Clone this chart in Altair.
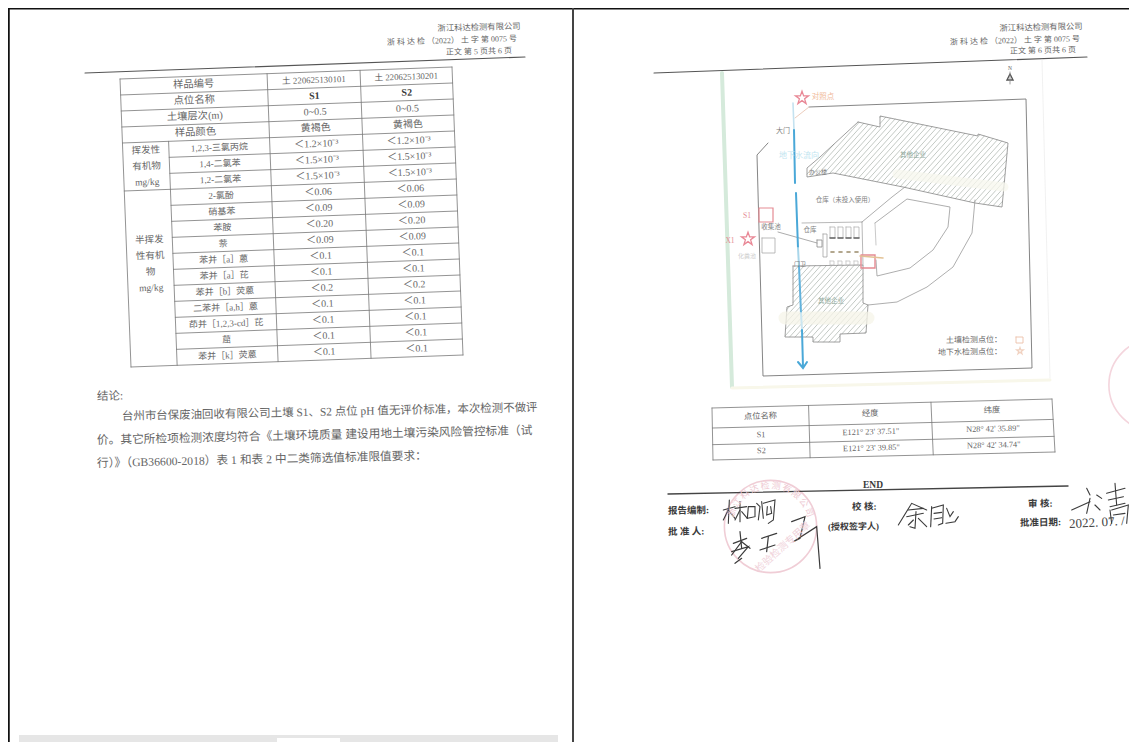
import math
import altair as alt
import pandas as pd

# ---------- text content ----------
HEAD_ROWS = ["样品编号", "点位名称", "土壤层次(m)", "样品颜色"]
NAMES = ["1,2,3-三氯丙烷", "1,4-二氯苯", "1,2-二氯苯", "2-氯酚", "硝基苯", "苯胺", "萘",
         "苯并［a］蒽", "苯并［a］芘", "苯并［b］荧蒽", "二苯并［a,h］蒽", "茚并［1,2,3-cd］芘", "䓛", "苯并［k］荧蒽"]
S1_VALUES = ["土 220625130101", "S1", "0~0.5", "黄褐色", "＜1.2×10⁻³", "＜1.5×10⁻³", "＜1.5×10⁻³", "＜0.06", "＜0.09",
             "＜0.20", "＜0.09", "＜0.1", "＜0.1", "＜0.2", "＜0.1", "＜0.1", "＜0.1", "＜0.1"]
S2_VALUES = ["土 220625130201", "S2", "0~0.5", "黄褐色", "＜1.2×10⁻³", "＜1.5×10⁻³", "＜1.5×10⁻³", "＜0.06", "＜0.09",
             "＜0.20", "＜0.09", "＜0.1", "＜0.1", "＜0.2", "＜0.1", "＜0.1", "＜0.1", "＜0.1"]
GROUP_A = ["挥发性", "有机物", "mg/kg"]
GROUP_B = ["半挥发", "性有机", "物", "mg/kg"]
CONCLUSION = ["结论:",
              "台州市台保废油回收有限公司土壤 S1、S2 点位 pH 值无评价标准，本次检测不做评",
              "价。其它所检项检测浓度均符合《土壤环境质量  建设用地土壤污染风险管控标准（试",
              "行）》（GB36600-2018）表 1 和表 2 中二类筛选值标准限值要求："]
COORD_TABLE = [["点位名称", "经度", "纬度"],
               ["S1", "E121° 23' 37.51\"", "N28° 42' 35.89\""],
               ["S2", "E121° 23' 39.85\"", "N28° 42' 34.74\""]]

FONT = "Liberation Serif, Noto Sans CJK SC"
INK = "#666666"
DARK = "#3a3a3a"
lines, texts = [], []
LINE_ID = [0]


def poly(points, color="#777777", w=0.8):
    LINE_ID[0] += 1
    for i, (x, y) in enumerate(points):
        lines.append(dict(id=LINE_ID[0], i=i, x=x, y=y, c=color, w=w))


def T(x, y, t, s=9, c=INK, tilt=2.0, align="center", weight="normal"):
    texts.append(dict(x=x, y=y, t=t, s=s, c=c, a=(360 - tilt) % 360, al=align, wt=weight))


def hatch(polygon, step=5.5, color="#a9b1ab", w=0.7):
    cs = [x + 0.9 * y for x, y in polygon]
    c = min(cs)
    while c < max(cs):
        hits = []
        n = len(polygon)
        for j in range(n):
            (x1, y1), (x2, y2) = polygon[j], polygon[(j + 1) % n]
            d1, d2 = x1 + 0.9 * y1 - c, x2 + 0.9 * y2 - c
            if d1 * d2 < 0:
                t = d1 / (d1 - d2)
                hits.append((x1 + t * (x2 - x1), y1 + t * (y2 - y1)))
        hits.sort()
        for a, b in zip(hits[0::2], hits[1::2]):
            poly([a, b], color, w)
        c += step


# ---------- frame ----------
poly([(8.5, 8), (8.5, 742)], "#111111", 2.5)
poly([(8, 8.5), (1129, 8.5)], "#111111", 2)
poly([(573, 8), (573, 742)], "#444444", 2)

# ---------- left page header ----------
T(479, 28, "浙江科达检测有限公司", 8.3, tilt=1.5)
T(452, 41, "浙 科 达 检 （2022） 土 字 第 0075 号", 8, tilt=1.7)
T(479, 52, "正文  第 5 页共 6 页", 8, tilt=1.5)
poly([(85, 73), (525, 57)], "#555555", 1.1)


# ---------- left table: page tilt maps (column fraction, row) ----------
def P(u, v):
    return (120 + 332 * u + 11 * v / 18, 79 - 12 * u + 16 * v)


UC = [0, 0.139, 0.443, 0.723, 1]
for v in range(19):
    if v <= 4 or v == 7 or v == 18:
        poly([P(0, v), P(1, v)])
    else:
        poly([P(UC[1], v), P(1, v)])
poly([P(0, 0), P(0, 18)])
poly([P(UC[1], 4), P(UC[1], 18)])
poly([P(UC[2], 0), P(UC[2], 18)])
poly([P(UC[3], 0), P(UC[3], 18)])
poly([P(1, 0), P(1, 18)])

for v, t in enumerate(HEAD_ROWS):
    T(*P(0.221, v + 0.5), t, 10.3)
for v, t in enumerate(NAMES):
    T(*P(0.291, v + 4.5), t, 9)
for v, t in enumerate(S1_VALUES):
    T(*P(0.583, v + 0.5), t, 10 if v else 8.8, DARK if v == 1 else INK, weight="bold" if v == 1 else "normal")
for v, t in enumerate(S2_VALUES):
    T(*P(0.861, v + 0.5), t, 10 if v else 8.8, DARK if v == 1 else INK, weight="bold" if v == 1 else "normal")
for v, t in enumerate(GROUP_A):
    T(*P(0.07, v + 4.5), t, 9.5)
for v, t in enumerate(GROUP_B):
    T(*P(0.07, v + 10.1), t, 9.5)

# ---------- conclusion ----------
T(97, 397, CONCLUSION[0], 11.5, tilt=1.2, align="left")
T(122, 417, CONCLUSION[1], 11.45, tilt=1.25, align="left")
T(97, 440, CONCLUSION[2], 11.7, tilt=1.3, align="left")
T(97, 463, CONCLUSION[3], 11.7, tilt=1.3, align="left")

# ---------- bottom bar of the left page ----------
rects = [dict(x=19, x2=558, y=735, y2=742, c="#e6e6e6"), dict(x=277, x2=340, y=738, y2=742, c="#ffffff")]

# ---------- right page header ----------
T(1041, 28, "浙江科达检测有限公司", 8.3, tilt=1.3)
T(1015, 41, "浙 科 达 检 （2022） 土 字 第 0075 号", 8, tilt=1.5)
T(1043, 51, "正文  第 6 页共 6 页", 8, tilt=1.3)
poly([(654, 73), (1087, 57)], "#555555", 1.1)

# ---------- site map ----------
poly([(722, 73), (732, 387)], "#d5eadb", 4)
poly([(1042, 60), (1050, 378)], "#eeeeee", 0.8)
poly([(732, 388), (1050, 380)], "#f8f7ea", 3)

poly([(809, 107), (1026, 99), (1032, 368), (763, 376), (757, 155), (768, 143)], "#777777", 0.9)
poly([(809, 107), (795, 118)], "#eccdbd", 1)

north = [(1010, 74), (1007, 80), (1013, 80), (1010, 74)]
poly(north, "#555555", 1.4)
poly([(1010, 72), (1010, 84)], "#888888", 0.8)
T(1010, 68, "N", 5.5, tilt=0)

upper = [(858, 122), (880, 127), (880, 116), (978, 136), (978, 134), (1008, 143), (1002, 207), (975, 203),
         (903, 187), (833, 173), (807, 177), (807, 168), (820, 157)]
lower = [(793, 266), (863, 265), (863, 303), (868, 305), (866, 333), (840, 334), (840, 342), (813, 342),
         (813, 337), (785, 337), (787, 307), (793, 305)]
hatch(upper)
hatch(lower)
poly(upper + upper[:1], "#888888", 0.8)
poly(lower + lower[:1], "#888888", 0.8)
poly([(897, 174), (1004, 187)], "rgba(247,247,238,0.75)", 9)
poly([(785, 318), (868, 318)], "rgba(246,244,232,0.75)", 13)

poly([(862, 222), (892, 197), (905, 187)], "#999999", 0.8)
poly([(975, 200), (972, 233), (953, 267), (927, 287), (897, 302), (868, 305)], "#999999", 0.8)
poly([(875, 223), (907, 199), (950, 207), (948, 227), (933, 250), (910, 268), (877, 276), (876, 260)], "#999999", 0.8)
poly([(875, 223), (876, 245)], "#bbbbbb", 0.8)
poly([(862, 222), (863, 265)], "#999999", 0.7)
poly([(802, 223), (862, 222)], "#999999", 0.7)
poly([(778, 232), (817, 243)], "#888888", 0.7)
poly([(817, 240), (822, 240), (822, 247), (817, 247), (817, 240)], "#888888", 0.8)
poly([(823, 234), (827, 234), (827, 257), (823, 257), (823, 234)], "#999999", 0.7)
BOX_X = [830, 838, 846, 854]
for bx in BOX_X:
    poly([(bx, 227), (bx + 5, 227), (bx + 5, 238), (bx, 238), (bx, 227)], "#aaaaaa", 0.7)
    poly([(bx, 238), (bx + 5, 238)], "#666666", 1.6)
    poly([(bx + 1, 252), (bx + 4, 252)], "#9a8a6a", 1.6)
    poly([(bx, 261), (bx + 4, 261), (bx + 4, 265), (bx, 265), (bx, 261)], "#bbbbbb", 0.7)

poly([(793, 103), (794, 130)], "#c4e2f0", 1.6)
poly([(794, 130), (795, 183)], "#4aa8d8", 2)
poly([(796, 193), (798, 248)], "#4aa8d8", 2)
poly([(798, 248), (799, 266)], "#a9d6ea", 2)
poly([(799, 266), (801, 313)], "#62b2dc", 2)
poly([(801, 313), (802, 330)], "#cbe6f1", 2)
poly([(802, 330), (803, 367)], "#4aa8d8", 2)
poly([(798, 362), (803, 368), (807, 362)], "#4aa8d8", 2)

SOIL = "#e58b93"
poly([(759, 208), (773, 208), (773, 222), (759, 222), (759, 208)], SOIL, 1.2)
poly([(762, 238), (775, 238), (775, 253), (762, 253), (762, 238)], "#aaaaaa", 0.8)
poly([(861, 255), (875, 255), (875, 268), (861, 268), (861, 255)], SOIL, 1.4)
poly([(860, 256), (883, 258)], "#e3c295", 1.6)
poly([(1016, 337), (1023, 337), (1023, 343), (1016, 343), (1016, 337)], "#ecc0a8", 0.9)

MAP_TEXT = "#808080"
T(783, 131, "大门", 7, MAP_TEXT, 0)
T(799, 156, "地下水流向", 8, "#c2e5f0", 0)
T(823, 97, "对照点", 7.5, "#f0b99a", 0)
T(818, 172, "办公楼", 6, MAP_TEXT, 0)
T(913, 155, "其他企业", 6.5, "#8fa99c", 0)
T(845, 200, "仓库（未投入使用）", 6.5, MAP_TEXT, 0)
T(771, 227, "收集池", 6.5, MAP_TEXT, 0)
T(810, 230, "仓库", 6.5, MAP_TEXT, 0)
T(747, 216, "S1", 7.5, "#e58b93", 0)
T(730, 241, "X1", 7.5, "#e58b93", 0)
T(747, 256, "化粪池", 6, "#cfcfcf", 0)
T(800, 264, "门卫", 6, MAP_TEXT, 0)
T(831, 301, "其他企业", 6.5, "#8fa99c", 0)
T(1002, 340, "土壤检测点位：", 8, INK, 1, "right")
T(1002, 352, "地下水检测点位：", 8, INK, 1, "right")

stars = [dict(x=802, y=98, c="#e0566a", s=190), dict(x=748, y=239, c="#e0566a", s=190),
         dict(x=1020, y=351, c="#ecc0a8", s=45)]


# ---------- coordinates table ----------
def Q(u, v):
    top = (712 + 340 * u, 408 - 9 * u)
    bot = (713 + 342 * u, 460 - 8 * u)
    return (top[0] + (bot[0] - top[0]) * v, top[1] + (bot[1] - top[1]) * v)


CU = [0, 0.284, 0.644, 1]
CV = [0, 0.385, 0.705, 1]
for v in CV:
    poly([Q(0, v), Q(1, v)], "#777777", 0.8)
for u in CU:
    poly([Q(u, 0), Q(u, 1)], "#777777", 0.8)
for r, row in enumerate(COORD_TABLE):
    for c, t in enumerate(row):
        vm = (CV[r] + CV[r + 1]) / 2
        um = (CU[c] + CU[c + 1]) / 2
        T(*Q(um, vm), t, 8.3, tilt=1.5)

# ---------- sign-off ----------
T(873, 485, "END", 9.5, DARK, 0, weight="bold")
poly([(668, 494), (1068, 486)], "#444444", 1.4)
T(668, 511, "报告编制:", 9.5, DARK, 1, "left", "bold")
T(852, 507, "校  核:", 9.5, DARK, 1, "left", "bold")
T(1028, 504, "审  核:", 9.5, DARK, 1, "left", "bold")
T(668, 532, "批 准 人:", 9.5, DARK, 1, "left", "bold")
T(828, 527, "(授权签字人)", 9, DARK, 1, "left", "bold")
T(1020, 523, "批准日期:", 9.5, DARK, 1, "left", "bold")
T(1069, 524, "2022. 07. /", 13, "#444444", 3, "left")


def sig(strokes, w=1.1):
    for s in strokes:
        poly([(660 + x / 3, 395 + y / 3) for x, y in s], "#3c3c3c", w)


sig([[(190, 345), (225, 335)], [(208, 315), (205, 385)], [(205, 345), (190, 375)], [(205, 345), (225, 370)],
     [(225, 340), (260, 335)], [(240, 320), (240, 380)], [(240, 345), (225, 375)], [(245, 350), (262, 370)],
     [(265, 335), (262, 370), (285, 365), (285, 335), (265, 335)], [(290, 325), (300, 335), (295, 375)],
     [(305, 320), (310, 370)], [(310, 325), (345, 315), (340, 375), (325, 385)],
     [(322, 335), (320, 360), (335, 355), (332, 335)]])
sig([[(715, 390), (755, 325), (800, 345)], [(745, 345), (790, 340)], [(740, 365), (790, 355)],
     [(768, 350), (765, 400), (750, 395)], [(745, 390), (760, 375)], [(775, 370), (800, 395)],
     [(815, 335), (812, 395)], [(815, 340), (850, 330), (848, 385), (835, 390)], [(822, 355), (845, 352)],
     [(822, 372), (845, 368)], [(860, 340), (870, 365), (880, 350)], [(858, 385), (885, 380), (895, 365)]])
sig([[(220, 445), (260, 430)], [(240, 410), (245, 460)], [(245, 440), (215, 480)], [(245, 440), (270, 460)],
     [(215, 470), (265, 455), (235, 490)], [(225, 505), (245, 490)], [(305, 430), (350, 415)],
     [(325, 425), (320, 470)], [(300, 465), (345, 450)],
     [(395, 380), (435, 365), (420, 430), (400, 440), (470, 395), (480, 520)]], 1.2)
sig([[(1235, 345), (1290, 320)], [(1280, 280), (1290, 300)], [(1290, 310), (1280, 355)], [(1310, 300), (1325, 310)],
     [(1305, 330), (1320, 345)], [(1340, 295), (1395, 280)], [(1345, 315), (1390, 305)], [(1350, 335), (1395, 325)],
     [(1365, 265), (1370, 330)], [(1350, 345), (1355, 385)], [(1355, 345), (1405, 330), (1400, 385)],
     [(1360, 360), (1395, 355)]])

# ---------- stamps ----------
PINK = "#eab9c5"
circles = [dict(x=770.5, y=526.5, s=8500, w=1.6, c=PINK), dict(x=1155, y=385, s=8500, w=1.6, c="#f0c4cf")]
STAMP_NAME = "浙江科达检测有限公司"
for k, ch in enumerate(STAMP_NAME):
    ang = -70 + 140 * k / (len(STAMP_NAME) - 1)
    T(770.5 + 41 * math.sin(math.radians(ang)), 526.5 - 41 * math.cos(math.radians(ang)), ch, 9, "#eec9d2", -ang % 360)
T(783, 547, "检验检测专用章", 10, "#f0d2da", 42)

# ---------- chart ----------
X = alt.Scale(domain=[8, 1129], range=[0, 1121], nice=False, zero=False)
Y = alt.Scale(domain=[8, 742], range=[0, 734], nice=False, zero=False)
xe = alt.X("x:Q", scale=X, axis=None)
ye = alt.Y("y:Q", scale=Y, axis=None)

rect_layer = alt.Chart(pd.DataFrame(rects)).mark_rect().encode(
    x=xe, x2="x2:Q", y=ye, y2="y2:Q", color=alt.Color("c:N", scale=None))
line_layer = alt.Chart(pd.DataFrame(lines)).mark_line(strokeCap="round").encode(
    x=xe, y=ye, detail="id:N", order=alt.Order("i:Q"),
    color=alt.Color("c:N", scale=None), strokeWidth=alt.StrokeWidth("w:Q", scale=None))
circle_layer = alt.Chart(pd.DataFrame(circles)).mark_point(shape="circle", filled=False).encode(
    x=xe, y=ye, size=alt.Size("s:Q", scale=None), color=alt.Color("c:N", scale=None),
    strokeWidth=alt.StrokeWidth("w:Q", scale=None))
STAR = "M0,-1L0.24,-0.31L0.95,-0.31L0.38,0.12L0.59,0.81L0,0.38L-0.59,0.81L-0.38,0.12L-0.95,-0.31L-0.24,-0.31Z"
star_layer = alt.Chart(pd.DataFrame(stars)).mark_point(shape=STAR, filled=False, strokeWidth=1.3).encode(
    x=xe, y=ye, size=alt.Size("s:Q", scale=None), color=alt.Color("c:N", scale=None))

layers = [rect_layer, circle_layer, line_layer, star_layer]
tdf = pd.DataFrame(texts)
for (al, wt), g in tdf.groupby(["al", "wt"]):
    layers.append(alt.Chart(g).mark_text(align=al, baseline="middle", font=FONT, fontWeight=wt).encode(
        x=xe, y=ye, text="t:N", size=alt.Size("s:Q", scale=None), color=alt.Color("c:N", scale=None),
        angle=alt.Angle("a:Q", scale=None)))

chart = alt.layer(*layers).properties(
    width=1121, height=734, padding=0, background="white",
    autosize=alt.AutoSizeParams(type="none"),
).configure_view(stroke=None)
chart.save("out.html", embed_options={"renderer": "svg", "actions": False})
